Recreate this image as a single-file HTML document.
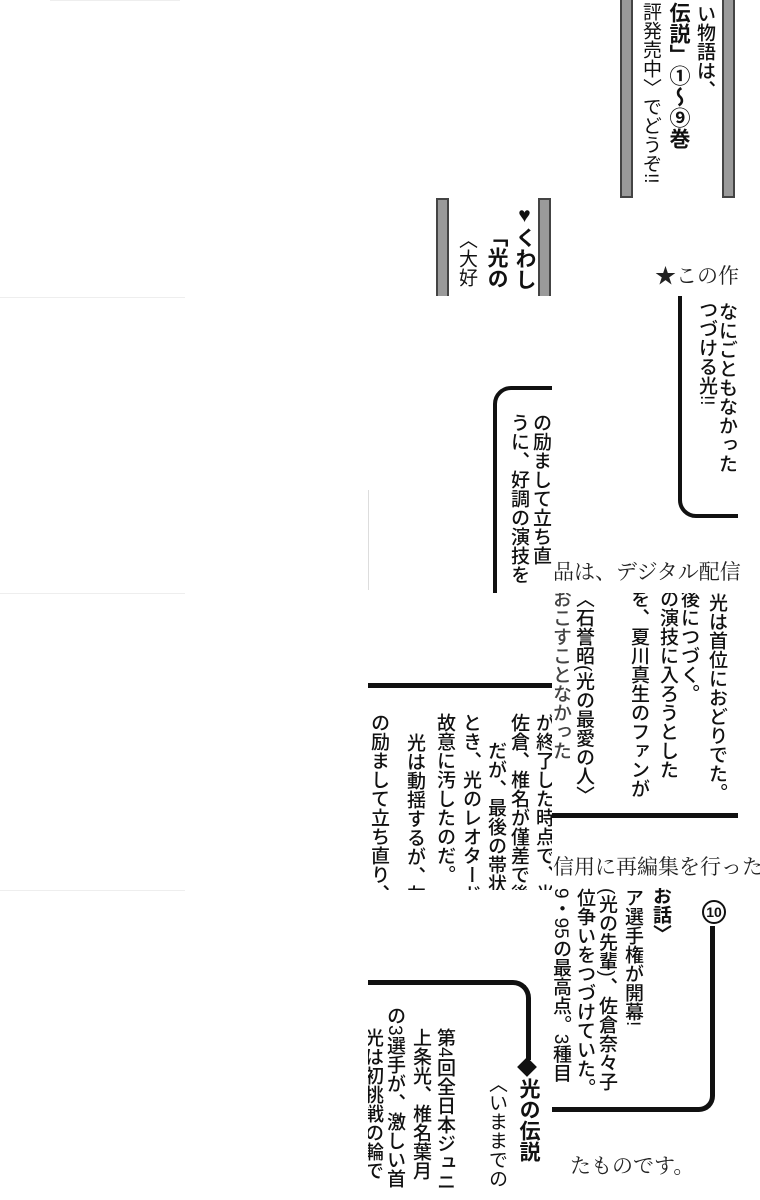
<!DOCTYPE html>
<html><head><meta charset="utf-8"><style>
html,body{margin:0;padding:0;background:#fff;}
body{width:760px;height:1200px;position:relative;overflow:hidden;font-family:"Liberation Sans","Noto Sans CJK JP",sans-serif;color:#111;}
.v{position:absolute;writing-mode:vertical-rl;font-size:19px;line-height:20px;white-space:nowrap;font-weight:500;}
.b{font-weight:700;}
.h{position:absolute;font-family:"Liberation Serif","Noto Serif CJK SC",serif;font-size:21px;white-space:nowrap;color:#222;}
.bar{position:absolute;background:#9a9a9a;border:2px solid #444;box-sizing:border-box;}
.ln{position:absolute;background:#111;}
.clip{position:absolute;overflow:hidden;}
.faint{position:absolute;background:#eee;height:1px;}
</style></head><body>

<div class="faint" style="left:50px;top:0;width:130px"></div>
<div class="faint" style="left:0;top:297px;width:185px"></div>
<div class="faint" style="left:0;top:593px;width:185px"></div>
<div class="faint" style="left:0;top:890px;width:185px"></div>
<div style="position:absolute;left:368px;top:490px;width:1px;height:100px;background:#ddd"></div>

<!-- top right tile -->
<div class="clip" style="left:618px;top:0;width:120px;height:230px">
<div class="bar" style="left:2px;top:-5px;width:13px;height:203px"></div>
<div class="bar" style="left:104px;top:-5px;width:13px;height:203px"></div>
<div class="v" style="left:76px;top:4px">い物語は、</div>
<div class="v b" style="left:50px;top:2px;font-size:21px">伝説」①〜⑨巻</div>
<div class="v" style="left:22px;top:2px;font-weight:400">評発売中〉でどうぞ!!</div>
</div>

<!-- heart tile -->
<div class="clip" style="left:434px;top:196px;width:118px;height:100px">
<div class="bar" style="left:2px;top:2px;width:13px;height:110px"></div>
<div class="bar" style="left:104px;top:2px;width:13px;height:110px"></div>
<div class="v b" style="left:80px;top:8px;font-size:21px">♥くわし</div>
<div class="v b" style="left:52px;top:30px;font-size:21px">「光の</div>
<div class="v" style="left:22px;top:34px;font-weight:400">〈大好</div>
</div>

<div class="h" style="left:655px;top:260px">★この作</div>

<!-- box right -->
<div class="clip" style="left:660px;top:296px;width:78px;height:226px">
<div style="position:absolute;left:18px;top:-20px;width:100px;height:242px;border:4px solid #111;border-radius:18px;box-sizing:border-box"></div>
<div class="v" style="left:56px;top:6px">なにごともなかった</div>
<div class="v" style="left:36px;top:4px">つづける光!!</div>
</div>

<!-- box mid -->
<div class="clip" style="left:490px;top:383px;width:62px;height:210px">
<div style="position:absolute;left:3px;top:3px;width:100px;height:260px;border:4px solid #111;border-radius:18px;box-sizing:border-box"></div>
<div class="v" style="left:40px;top:30px">の励まして立ち直</div>
<div class="v" style="left:18px;top:30px">うに、好調の演技を</div>
</div>

<div class="h" style="left:553px;top:556px">品は、デジタル配信</div>

<!-- tile 552-737 593-817 -->
<div class="clip" style="left:552px;top:593px;width:186px;height:230px">
<div class="v" style="left:154px;top:0">光は首位におどりでた。</div>
<div class="v" style="left:126px;top:-4px">後につづく。</div>
<div class="v" style="left:105px;top:-4px">の演技に入ろうとした</div>
<div class="v" style="left:76px;top:-4px">を、夏川真生のファンが</div>
<div class="v" style="left:21px;top:-4px">〈石誉昭(光の最愛の人〉</div>
<div class="v" style="left:-2px;top:-4px;color:#444">おこすことなかった</div>
<div class="ln" style="left:0;top:220px;width:186px;height:5px"></div>
</div>

<!-- left tile 368-552 685-890 -->
<div class="clip" style="left:368px;top:683px;width:184px;height:207px">
<div class="ln" style="left:0;top:0;width:184px;height:5px"></div>
<div class="v" style="left:165px;top:30px">が終了した時点で、光</div>
<div class="v" style="left:140px;top:30px">佐倉、椎名が僅差で後</div>
<div class="v" style="left:117px;top:58px">だが、最後の帯状で</div>
<div class="v" style="left:92px;top:30px">とき、光のレオタード</div>
<div class="v" style="left:66px;top:30px">故意に汚したのだ。</div>
<div class="v" style="left:36px;top:50px">光は動揺するが、友</div>
<div class="v" style="left:0px;top:30px">の励まして立ち直り、</div>
</div>

<div class="h" style="left:553px;top:851px">信用に再編集を行った</div>

<!-- bottom right tile -->
<div class="clip" style="left:552px;top:888px;width:186px;height:228px">
<div style="position:absolute;left:150px;top:12px;width:24px;height:24px;border:2px solid #111;border-radius:50%;box-sizing:border-box;font-size:14px;text-align:center;line-height:20px;font-weight:700">10</div>
<div style="position:absolute;left:-40px;top:38px;width:203px;height:186px;border-right:5px solid #111;border-bottom:5px solid #111;border-bottom-right-radius:16px;box-sizing:border-box"></div>
<div class="v b" style="left:98px;top:-2px">お話〉</div>
<div class="v" style="left:70px;top:0">ア選手権が開幕!</div>
<div class="v" style="left:44px;top:0">(光の先輩)、佐倉奈々子</div>
<div class="v" style="left:22px;top:0">位争いをつづけていた。</div>
<div class="v" style="left:-2px;top:0">9・95の最高点。3種目</div>
</div>

<!-- bottom left tile -->
<div class="clip" style="left:368px;top:978px;width:184px;height:210px">
<div style="position:absolute;left:-20px;top:2px;width:183px;height:80px;border-top:5px solid #111;border-right:5px solid #111;border-top-right-radius:18px;box-sizing:border-box"></div>
<div style="position:absolute;left:152px;top:82px;width:14px;height:14px;background:#111;transform:rotate(45deg)"></div>
<div class="v b" style="left:150px;top:100px;font-size:21px">光の伝説</div>
<div class="v" style="left:118px;top:96px;font-weight:400">〈いままでのお</div>
<div class="v" style="left:66px;top:50px">第4回全日本ジュニ</div>
<div class="v" style="left:42px;top:50px">上条光、椎名葉月</div>
<div class="v" style="left:16px;top:28px">の3選手が、激しい首</div>
<div class="v" style="left:-6px;top:50px">光は初挑戦の輪で</div>
</div>

<div class="h" style="left:570px;top:1150px">たものです。</div>
</body></html>
